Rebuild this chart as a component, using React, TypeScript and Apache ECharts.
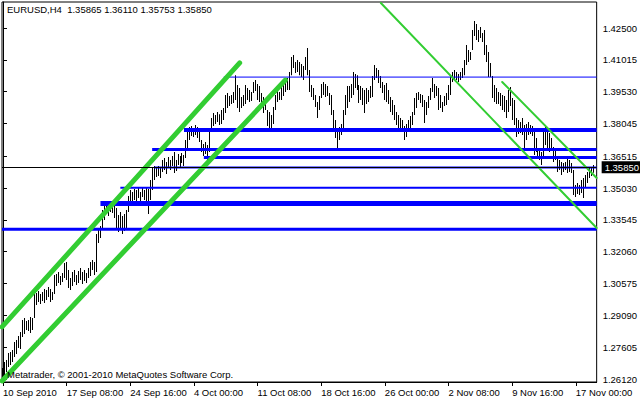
import React, { useEffect, useRef } from "react";
import * as echarts from "echarts";

const symbolTitle = "EURUSD,H4  1.35865 1.36110 1.35753 1.35850";
const copyright = "Metatrader, © 2001-2010 MetaQuotes Software Corp.";

// H4 bars, index 0 = 10 Sep 2010 00:00
const highs = [
  1.2663, 1.2691, 1.2701, 1.2733, 1.2738, 1.2747, 1.2785, 1.2794, 1.2813, 1.2831,
  1.2887, 1.2897, 1.2883, 1.2887, 1.2901, 1.2897, 1.3023, 1.3013, 1.3023, 1.3009,
  1.3018, 1.3032, 1.3027, 1.3041, 1.3032, 1.3018, 1.3097, 1.3102, 1.3111, 1.3093,
  1.3107, 1.3153, 1.3158, 1.3121, 1.3083, 1.3111, 1.3121, 1.3097, 1.3116, 1.3130,
  1.3111, 1.3121, 1.3107, 1.3130, 1.3158, 1.3167, 1.3158, 1.3289, 1.3317, 1.3326,
  1.3401, 1.3429, 1.3438, 1.3424, 1.3438, 1.3429, 1.3419, 1.3410, 1.3377, 1.3391,
  1.3373, 1.3382, 1.3401, 1.3466, 1.3494, 1.3485, 1.3499, 1.3494, 1.3503, 1.3485,
  1.3503, 1.3494, 1.3508, 1.3499, 1.3541, 1.3597, 1.3606, 1.3597, 1.3606, 1.3601,
  1.3634, 1.3643, 1.3625, 1.3648, 1.3634, 1.3653, 1.3671, 1.3634, 1.3662, 1.3653,
  1.3667, 1.3657, 1.3727, 1.3765, 1.3788, 1.3793, 1.3783, 1.3797, 1.3788, 1.3774,
  1.3727, 1.3709, 1.3718, 1.3704, 1.3783, 1.3830, 1.3853, 1.3844, 1.3858, 1.3848,
  1.3867, 1.3877, 1.3937, 1.3947, 1.3933, 1.3937, 1.3951, 1.4030, 1.3984, 1.3970,
  1.3928, 1.3937, 1.3984, 1.3970, 1.3961, 1.3951, 1.3998, 1.4007, 1.3989, 1.3979,
  1.3947, 1.3928, 1.3914, 1.3867, 1.3858, 1.3844, 1.3881, 1.3937, 1.3961, 1.3951,
  1.3998, 1.3984, 1.4007, 1.4017, 1.4045, 1.4115, 1.4124, 1.4091, 1.4101, 1.4091,
  1.4082, 1.4073, 1.4115, 1.4157, 1.4054, 1.3984, 1.3970, 1.3937, 1.3905, 1.3933,
  1.3989, 1.3998, 1.3989, 1.3979, 1.3947, 1.3937, 1.3867, 1.3821, 1.3783, 1.3788,
  1.3802, 1.3867, 1.3937, 1.3979, 1.3979, 1.3989, 1.4045, 1.4035, 1.4030, 1.3984,
  1.3979, 1.3970, 1.3961, 1.3970, 1.3961, 1.3979, 1.4026, 1.4077, 1.4063, 1.4054,
  1.4026, 1.3998, 1.3984, 1.3993, 1.3961, 1.3928, 1.3914, 1.3891, 1.3858, 1.3844,
  1.3830, 1.3821, 1.3793, 1.3802, 1.3821, 1.3839, 1.3858, 1.3923, 1.3947, 1.3951,
  1.3942, 1.3937, 1.3914, 1.3905, 1.3933, 1.3970, 1.4017, 1.3989, 1.3979, 1.3970,
  1.3937, 1.3905, 1.3933, 1.3947, 1.3984, 1.4030, 1.4045, 1.4054, 1.4045, 1.4035,
  1.4045, 1.4063, 1.4101, 1.4171, 1.4147, 1.4138, 1.4241, 1.4283, 1.4269, 1.4241,
  1.4255, 1.4227, 1.4241, 1.4171, 1.4138, 1.4087, 1.4026, 1.3984, 1.3970, 1.3951,
  1.3947, 1.3937, 1.3933, 1.3914, 1.3961, 1.3975, 1.3923, 1.3914, 1.3830, 1.3821,
  1.3811, 1.3830, 1.3797, 1.3802, 1.3811, 1.3797, 1.3793, 1.3765, 1.3737, 1.3690,
  1.3681, 1.3671, 1.3774, 1.3788, 1.3783, 1.3760, 1.3737, 1.3695, 1.3681, 1.3648,
  1.3634, 1.3625, 1.3620, 1.3625, 1.3648, 1.3634, 1.3620, 1.3587, 1.3517, 1.3527,
  1.3517, 1.3541, 1.3550, 1.3564, 1.3578, 1.3601, 1.3597, 1.3611,
];

const lows = [
  1.2612, 1.2626, 1.2645, 1.2668, 1.2677, 1.2691, 1.2715, 1.2729, 1.2757, 1.2752,
  1.2808, 1.2822, 1.2841, 1.2836, 1.2827, 1.2841, 1.2897, 1.2957, 1.2971, 1.2962,
  1.2976, 1.2967, 1.2981, 1.2995, 1.2971, 1.2981, 1.3009, 1.3046, 1.3060, 1.3051,
  1.3065, 1.3083, 1.3074, 1.3037, 1.3027, 1.3046, 1.3065, 1.3051, 1.3060, 1.3074,
  1.3055, 1.3069, 1.3060, 1.3083, 1.3093, 1.3121, 1.3097, 1.3111, 1.3247, 1.3270,
  1.3307, 1.3354, 1.3382, 1.3373, 1.3391, 1.3387, 1.3363, 1.3307, 1.3298, 1.3317,
  1.3289, 1.3303, 1.3317, 1.3391, 1.3419, 1.3438, 1.3447, 1.3433, 1.3457, 1.3438,
  1.3461, 1.3447, 1.3443, 1.3382, 1.3447, 1.3494, 1.3541, 1.3555, 1.3559, 1.3550,
  1.3578, 1.3587, 1.3569, 1.3597, 1.3587, 1.3606, 1.3573, 1.3583, 1.3611, 1.3601,
  1.3620, 1.3606, 1.3643, 1.3681, 1.3727, 1.3746, 1.3741, 1.3751, 1.3737, 1.3718,
  1.3671, 1.3653, 1.3662, 1.3634, 1.3671, 1.3765, 1.3793, 1.3802, 1.3811, 1.3797,
  1.3802, 1.3821, 1.3853, 1.3877, 1.3886, 1.3895, 1.3900, 1.3914, 1.3877, 1.3858,
  1.3877, 1.3886, 1.3895, 1.3914, 1.3905, 1.3909, 1.3947, 1.3956, 1.3914, 1.3905,
  1.3895, 1.3853, 1.3867, 1.3793, 1.3774, 1.3783, 1.3802, 1.3867, 1.3905, 1.3914,
  1.3914, 1.3933, 1.3951, 1.3961, 1.3961, 1.4030, 1.4063, 1.4040, 1.4045, 1.4030,
  1.4021, 1.4007, 1.4054, 1.4030, 1.3951, 1.3928, 1.3914, 1.3881, 1.3830, 1.3867,
  1.3923, 1.3937, 1.3928, 1.3933, 1.3891, 1.3844, 1.3783, 1.3737, 1.3690, 1.3727,
  1.3751, 1.3774, 1.3844, 1.3877, 1.3905, 1.3923, 1.3937, 1.3970, 1.3961, 1.3900,
  1.3914, 1.3891, 1.3853, 1.3895, 1.3905, 1.3923, 1.3928, 1.4007, 1.4017, 1.3993,
  1.3970, 1.3947, 1.3914, 1.3905, 1.3895, 1.3858, 1.3844, 1.3821, 1.3797, 1.3783,
  1.3774, 1.3765, 1.3727, 1.3741, 1.3765, 1.3783, 1.3797, 1.3844, 1.3877, 1.3914,
  1.3900, 1.3881, 1.3807, 1.3844, 1.3877, 1.3914, 1.3951, 1.3923, 1.3933, 1.3867,
  1.3877, 1.3858, 1.3886, 1.3891, 1.3914, 1.3937, 1.3998, 1.4007, 1.4007, 1.3998,
  1.4007, 1.4017, 1.4030, 1.4077, 1.4091, 1.4101, 1.4147, 1.4213, 1.4194, 1.4185,
  1.4203, 1.4185, 1.4124, 1.4091, 1.4021, 1.4021, 1.3923, 1.3905, 1.3895, 1.3895,
  1.3886, 1.3867, 1.3858, 1.3830, 1.3858, 1.3886, 1.3821, 1.3797, 1.3741, 1.3755,
  1.3760, 1.3751, 1.3690, 1.3727, 1.3751, 1.3755, 1.3746, 1.3657, 1.3671, 1.3643,
  1.3634, 1.3611, 1.3643, 1.3704, 1.3681, 1.3671, 1.3681, 1.3625, 1.3634, 1.3578,
  1.3587, 1.3564, 1.3578, 1.3587, 1.3573, 1.3578, 1.3573, 1.3471, 1.3461, 1.3475,
  1.3471, 1.3480, 1.3457, 1.3508, 1.3527, 1.3550, 1.3559, 1.3575,
];

const timeLabels = [
  "10 Sep 2010", "17 Sep 08:00", "24 Sep 16:00", "4 Oct 00:00", "11 Oct 08:00",
  "18 Oct 16:00", "26 Oct 00:00", "2 Nov 08:00", "9 Nov 16:00", "17 Nov 00:00",
];
const barsPerTimeLabel = 32;

const priceTicks = [
  1.2612, 1.27605, 1.2909, 1.30575, 1.3206, 1.33545, 1.3503, 1.36515, 1.38045,
  1.3953, 1.41015, 1.425,
];
const lastPrice = 1.3585;

// horizontal levels: price and the bar where each starts
const levelPrices = [1.4021, 1.3774, 1.3683, 1.3646, 1.3599, 1.3504, 1.3431, 1.3311];
const levelStarts = [111, 91, 75, 101, 76, 59, 49, -0.5];

// trend lines: [startBar, startPrice, endBar, endPrice]
const trendLines = [
  [-0.5, 1.2855, 119, 1.4087],
  [-0.5, 1.2603, 142, 1.4007],
  [190, 1.4367, 298.5, 1.3317],
  [251, 1.3998, 298.5, 1.355],
];

// ---- styling ----
const FONT = "'Liberation Sans', Arial, sans-serif";
const FS = 9.5;
const levelWidths = [1, 4, 3, 3, 2, 2, 5, 3];
const trendWidths = [5, 5, 2, 2];
const BLUE = "#0000FF";
const GREEN = "#32CD32";

export default function App() {
  const ref = useRef<HTMLDivElement>(null);

  useEffect(() => {
    if (!ref.current) return;
    const chart = echarts.init(ref.current, null, { renderer: "svg" });
    const nBars = highs.length;
    const xMax = nBars + 0.5;
    const labelIdx = timeLabels.map((_, i) => i * barsPerTimeLabel);

    const levelSeries = levelPrices.map((p, i) => ({
      type: "line",
      silent: true,
      showSymbol: false,
      symbol: "none",
      z: 3,
      data: [
        [levelStarts[i], p],
        [xMax, p],
      ],
      lineStyle: { color: BLUE, width: levelWidths[i] },
    }));

    const trendSeries = trendLines.map((t, i) => ({
      type: "line",
      silent: true,
      showSymbol: false,
      symbol: "none",
      z: 4,
      data: [
        [t[0], t[1]],
        [t[2], t[3]],
      ],
      lineStyle: { color: GREEN, width: trendWidths[i], cap: "round" },
    }));

    chart.setOption({
      animation: false,
      backgroundColor: "#fff",
      grid: {
        left: 2,
        top: 2,
        right: 40,
        bottom: 18,
        show: true,
        borderColor: "#000",
        borderWidth: 1,
        backgroundColor: "#fff",
      },
      xAxis: {
        type: "value",
        min: -0.5,
        max: xMax,
        axisLine: { show: true, lineStyle: { color: "#000", width: 1 } },
        axisTick: {
          show: true,
          customValues: labelIdx,
          length: 4,
          lineStyle: { color: "#000" },
        },
        axisLabel: {
          customValues: labelIdx,
          formatter: (v: number) => timeLabels[Math.round(v / barsPerTimeLabel)] ?? "",
          align: "left",
          margin: 5,
          color: "#000",
          fontSize: FS,
          fontFamily: FONT,
        },
        splitLine: { show: false },
      },
      yAxis: {
        type: "value",
        position: "right",
        min: 1.2598,
        max: 1.43714,
        axisLine: { show: true, lineStyle: { color: "#000", width: 1 } },
        axisTick: {
          show: true,
          inside: false,
          length: 4,
          customValues: priceTicks,
          lineStyle: { color: "#000" },
        },
        axisLabel: {
          customValues: priceTicks,
          formatter: (v: number) => v.toFixed(5),
          margin: 6,
          color: "#000",
          fontSize: FS,
          fontFamily: FONT,
        },
        splitLine: { show: false },
      },
      graphic: [
        {
          type: "text",
          x: 7,
          y: 4,
          z: 10,
          style: { text: symbolTitle, fill: "#000", fontSize: FS, fontFamily: FONT, verticalAlign: "top" },
        },
        {
          type: "text",
          x: 7,
          y: 369,
          z: 10,
          style: { text: copyright, fill: "#000", fontSize: FS, fontFamily: FONT, verticalAlign: "top" },
        },
      ],
      series: [
        {
          type: "custom",
          z: 2,
          clip: true,
          data: highs.map((h, i) => [i, h, lows[i]]),
          encode: { x: 0, y: [1, 2] },
          renderItem: (params: any, api: any) => {
            const x = api.value(0);
            const top = api.coord([x, api.value(1)]);
            const bot = api.coord([x, api.value(2)]);
            return {
              type: "rect",
              shape: {
                x: Math.floor(top[0]),
                y: top[1],
                width: 1,
                height: Math.max(1, bot[1] - top[1]),
              },
              style: { fill: "#000" },
            };
          },
          markLine: {
            silent: true,
            symbol: "none",
            animation: false,
            lineStyle: { color: "#000", width: 1, type: "solid" },
            label: {
              show: true,
              position: "end",
              distance: 5,
              formatter: lastPrice.toFixed(5),
              color: "#fff",
              backgroundColor: "#000",
              padding: [1, 3, 1, 3],
              fontSize: FS,
              fontFamily: FONT,
            },
            data: [{ yAxis: lastPrice }],
          },
        },
        ...levelSeries,
        ...trendSeries,
      ],
    });

    return () => chart.dispose();
  }, []);

  return (
    <div
      ref={ref}
      style={{ position: "fixed", left: 0, top: 0, width: 640, height: 400, background: "#fff" }}
    />
  );
}
